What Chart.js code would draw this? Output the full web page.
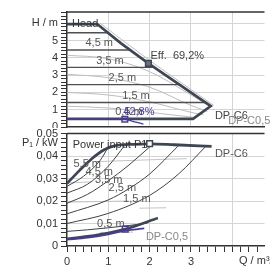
<!DOCTYPE html>
<html>
<head>
<meta charset="utf-8">
<script src="https://cdn.jsdelivr.net/npm/chart.js@4"></script>
<style>
  html, body { margin: 0; padding: 0; background: #fff; overflow: hidden; }
  #wrap { position: relative; width: 270px; height: 266px; }
  canvas { position: absolute; left: 0; }
  #head-chart { top: 0; }
  #power-chart { top: 128px; background: #fff; }
</style>
</head>
<body>
<div id="wrap">
  <canvas id="head-chart" width="270" height="137"></canvas>
  <canvas id="power-chart" width="270" height="138"></canvas>
</div>
<script>
"use strict";

// ---- head chart (H / m over Q / m3/h) ----
var outlineQ = [0, 0.73, 1.3, 1.97, 3.48, 3.05, 0];
var outlineH = [5.95, 5.95, 4.85, 3.68, 1.21, 0.47, 0.47];

var setLevels = [5.45, 4.45, 3.45, 2.45, 1.42];
var setEndQ = [1.0, 1.55, 2.11, 2.72, 3.35];

var speedQ = [[0.8, 2.0, 3.55], [0, 1, 2, 2.9, 3.45], [0, 1, 2, 3, 3.4], [0, 1, 2, 3, 3.3], [0, 1, 2, 3.1]];
var speedH = [[6.0, 3.85, 1.25], [4.15, 3.95, 3.2, 2.0, 1.2], [3.05, 2.85, 2.3, 1.25, 0.9], [2.0, 1.85, 1.45, 0.85, 0.7], [1.2, 1.1, 0.85, 0.55]];

var minHeadQ = [0, 1.2, 1.4, 1.55, 1.85];
var minHeadH = [0.47, 0.47, 0.44, 0.36, 0.17];

var effPoint = [1.97, 3.68];
var minHeadPoint = [1.4, 0.45];

// ---- power chart (P1 / kW over Q) ----
var pMaxQ = [0, 0.3, 0.6, 0.9, 1.2, 1.6, 2.0, 2.6, 3.5];
var pMaxP = [0.0278, 0.0335, 0.0388, 0.0428, 0.0447, 0.0452, 0.0454, 0.0450, 0.0443];

var pSetQ = [[0, 0.4, 0.8, 1.0], [0, 0.5, 1.0, 1.4], [0, 0.5, 1.0, 1.5, 2.07], [0, 1.0, 1.5, 2.0, 2.72], [0, 1.0, 2.0, 2.7, 3.37], [0, 0.5, 1.0, 1.5, 1.95]];
var pSetP = [[0.0265, 0.031, 0.038, 0.044], [0.0235, 0.0275, 0.0355, 0.0448], [0.0190, 0.0230, 0.0290, 0.0360, 0.0452], [0.0143, 0.0205, 0.0255, 0.0320, 0.0450], [0.0100, 0.0145, 0.0225, 0.0320, 0.0445], [0.0065, 0.0072, 0.0081, 0.0091, 0.0102]];

var pSpeedQ = [[0.7, 1.5, 2.3, 2.9], [0, 0.6], [1.75, 2.4], [0, 0.9, 1.5], [0.8, 1.6]];
var pSpeedP = [[0.0375, 0.0380, 0.0385, 0.0388], [0.0280, 0.0285], [0.0168, 0.0170], [0.0195, 0.0198, 0.0200], [0.0060, 0.0062]];

var pMinQ = [0, 0.5, 1.0, 1.5, 2.2];
var pMinP = [0.0032, 0.0043, 0.0058, 0.0080, 0.0124];

var pPurpleQ = [0, 0.5, 1.0, 1.41, 1.87];
var pPurpleP = [0.0028, 0.0037, 0.0052, 0.0068, 0.0078];

var powerPoint = [2.0, 0.0455];
var minPowerPoint = [1.41, 0.0075];

var Q_MAX = 4.78;
var FONT = '"Liberation Sans", Arial, sans-serif';
var DARK = "#3d4652";
var PURPLE = "#4a3a9a";

function pts(qs, vs) {
  return qs.map(function (q, i) { return { x: q, y: vs[i] }; });
}
function isStep(v, step) {
  var n = v / step;
  return Math.abs(n - Math.round(n)) < 1e-6;
}

function line(data, color, width, order, tension) {
  return {
    data: data, showLine: true, borderColor: color, borderWidth: width,
    pointRadius: 0, tension: tension || 0, cubicInterpolationMode: tension ? "monotone" : "default",
    order: order, fill: false,
  };
}
function marker(p, border, bg, order) {
  return {
    data: [{ x: p[0], y: p[1] }], showLine: false, pointStyle: "rect",
    pointRadius: 4, pointBorderWidth: 1.5, pointBorderColor: border, pointBackgroundColor: bg, order: order,
  };
}

var notesPlugin = {
  id: "notes",
  afterDatasetsDraw: function (chart, args, opts) {
    var ctx = chart.ctx, a = chart.chartArea;
    ctx.save();
    ctx.strokeStyle = "#333";
    ctx.lineWidth = 1.5;
    ctx.beginPath();
    ctx.moveTo(a.left, a.top);
    ctx.lineTo(a.right, a.top);
    ctx.stroke();
    ctx.textBaseline = "middle";
    (opts.items || []).forEach(function (n) {
      ctx.font = "11px " + FONT;
      ctx.fillStyle = n.color || "#555";
      ctx.textAlign = n.align || "center";
      var px = n.px != null ? n.px : chart.scales.x.getPixelForValue(n.x);
      var py = n.py != null ? n.py : chart.scales.y.getPixelForValue(n.y);
      ctx.fillText(n.text, px, py);
    });
    ctx.restore();
  },
};

// labels may spill past the plot edges, like in the print
function noLabelPad(s) {
  s.paddingTop = 0; s.paddingBottom = 0; s.paddingLeft = 0; s.paddingRight = 0;
}

function xScale(showLabels) {
  return {
    type: "linear", min: 0, max: Q_MAX,
    afterFit: function (s) { s.height = showLabels ? 20 : 0; noLabelPad(s); },
    ticks: {
      display: showLabels, stepSize: 0.2, autoSkip: false, maxRotation: 0, includeBounds: false,
      color: "#333", font: { family: FONT, size: 11 }, padding: 3,
      callback: function (v) { return isStep(v, 1) && v < 3.5 ? String(Math.round(v)) : ""; },
    },
    grid: {
      color: function (c) { return isStep(c.tick.value, 1) && c.tick.value > 0 ? "#d4d4d4" : "rgba(0,0,0,0)"; },
      tickColor: "#333", tickLength: 6, drawTicks: showLabels,
    },
    border: { color: "#333", width: 1.5 },
  };
}

function yScale(max, step, major, label) {
  return {
    type: "linear", min: 0, max: max,
    afterFit: function (s) { s.width = 67; noLabelPad(s); },
    ticks: {
      stepSize: step, autoSkip: false, includeBounds: false, padding: 3,
      color: "#333", font: { family: FONT, size: 11 },
      callback: label,
    },
    grid: {
      color: function (c) { return isStep(c.tick.value, major) && c.tick.value > 0 ? "#d4d4d4" : "rgba(0,0,0,0)"; },
      tickColor: "#333", tickLength: 6,
    },
    border: { color: "#333", width: 1.5 },
  };
}

function baseOptions(pad, scales, notes) {
  return {
    responsive: false, animation: false, devicePixelRatio: 1,
    layout: { padding: pad },
    scales: scales,
    plugins: { legend: { display: false }, tooltip: { enabled: false }, notes: { items: notes } },
  };
}

// head chart
var headSets = [];
speedQ.forEach(function (q, i) { headSets.push(line(pts(q, speedH[i]), "#bdbdbd", 1, 6, 0.4)); });
setLevels.forEach(function (h, i) { headSets.push(line(pts([0, setEndQ[i]], [h, h]), "#4d4f55", 1.4, 5)); });
headSets.push(line(pts(outlineQ, outlineH), DARK, 2.6, 4));
headSets.push(line(pts(minHeadQ, minHeadH), PURPLE, 1.3, 3, 0.3));
headSets.push(marker(effPoint, DARK, "#6b7380", 1));
headSets.push(marker(minHeadPoint, PURPLE, "rgba(255,255,255,0)", 1));

new Chart(document.getElementById("head-chart"), {
  type: "scatter",
  data: { datasets: headSets },
  options: baseOptions({ top: 12, right: 0, bottom: 10, left: 0 }, {
    x: xScale(false),
    y: yScale(6.65, 0.2, 1, function (v) {
      if (isStep(v, 1) && Math.round(v) === 6) return "H / m";
      return isStep(v, 1) ? String(Math.round(v)) : "";
    }),
  }, [
    { text: "Head", x: 0.12, y: 5.95, align: "left", color: "#333" },
    { text: "4,5 m", x: 0.78, y: 4.86 },
    { text: "3,5 m", x: 1.04, y: 3.82 },
    { text: "2,5 m", x: 1.34, y: 2.83 },
    { text: "1,5 m", x: 1.67, y: 1.79 },
    { text: "0,5 m", x: 1.5, y: 0.87 },
    { text: "42,8%", x: 1.74, y: 0.87, color: PURPLE },
    { text: "Eff.  69,2%", x: 2.02, y: 4.1, align: "left", color: "#444" },
    { text: "DP-C6", x: 3.58, y: 0.64, align: "left", color: "#444" },
    { text: "DP-C0,5", x: 3.9, y: 0.35, align: "left", color: "#888" },
  ]),
  plugins: [notesPlugin],
});

// power chart
var powerSets = [];
pSpeedQ.forEach(function (q, i) { powerSets.push(line(pts(q, pSpeedP[i]), "#c4c4c4", 1, 6, 0.4)); });
pSetQ.forEach(function (q, i) { powerSets.push(line(pts(q, pSetP[i]), "#3f4248", 1, 5, 0.4)); });
powerSets.push(line(pts(pMaxQ, pMaxP), DARK, 2.8, 4, 0.4));
powerSets.push(line(pts(pMinQ, pMinP), DARK, 2.6, 4, 0.4));
powerSets.push(line(pts(pPurpleQ, pPurpleP), PURPLE, 1.8, 3, 0.4));
powerSets.push(marker(powerPoint, DARK, "#fff", 1));
powerSets.push(marker(minPowerPoint, PURPLE, "rgba(255,255,255,0)", 1));

new Chart(document.getElementById("power-chart"), {
  type: "scatter",
  data: { datasets: powerSets },
  options: baseOptions({ top: 1, right: 0, bottom: 0, left: 0 }, {
    x: xScale(true),
    y: yScale(0.05, 0.002, 0.01, function (v) {
      if (Math.abs(v - 0.046) < 1e-6) return "P\u2081 / kW";
      if (!isStep(v, 0.01)) return "";
      var n = Math.round(v / 0.01);
      return n === 0 ? "0" : "0,0" + n;
    }),
  }, [
    { text: "Power input P1", x: 0.14, y: 0.045, align: "left", color: "#333" },
    { text: "DP-C6", x: 3.58, y: 0.0407, align: "left", color: "#555" },
    { text: "5,5 m", x: 0.49, y: 0.0365 },
    { text: "4,5 m", x: 0.78, y: 0.0331 },
    { text: "3,5 m", x: 1.01, y: 0.0292 },
    { text: "2,5 m", x: 1.34, y: 0.0257 },
    { text: "1,5 m", x: 1.69, y: 0.0207 },
    { text: "0,5 m", x: 1.06, y: 0.0097 },
    { text: "DP-C0,5", x: 2.42, y: 0.0041, color: "#888" },
    { text: "Q / m\u00b3/h", px: 239, py: 133, align: "left", color: "#333" },
  ]),
  plugins: [notesPlugin],
});
</script>
</body>
</html>
